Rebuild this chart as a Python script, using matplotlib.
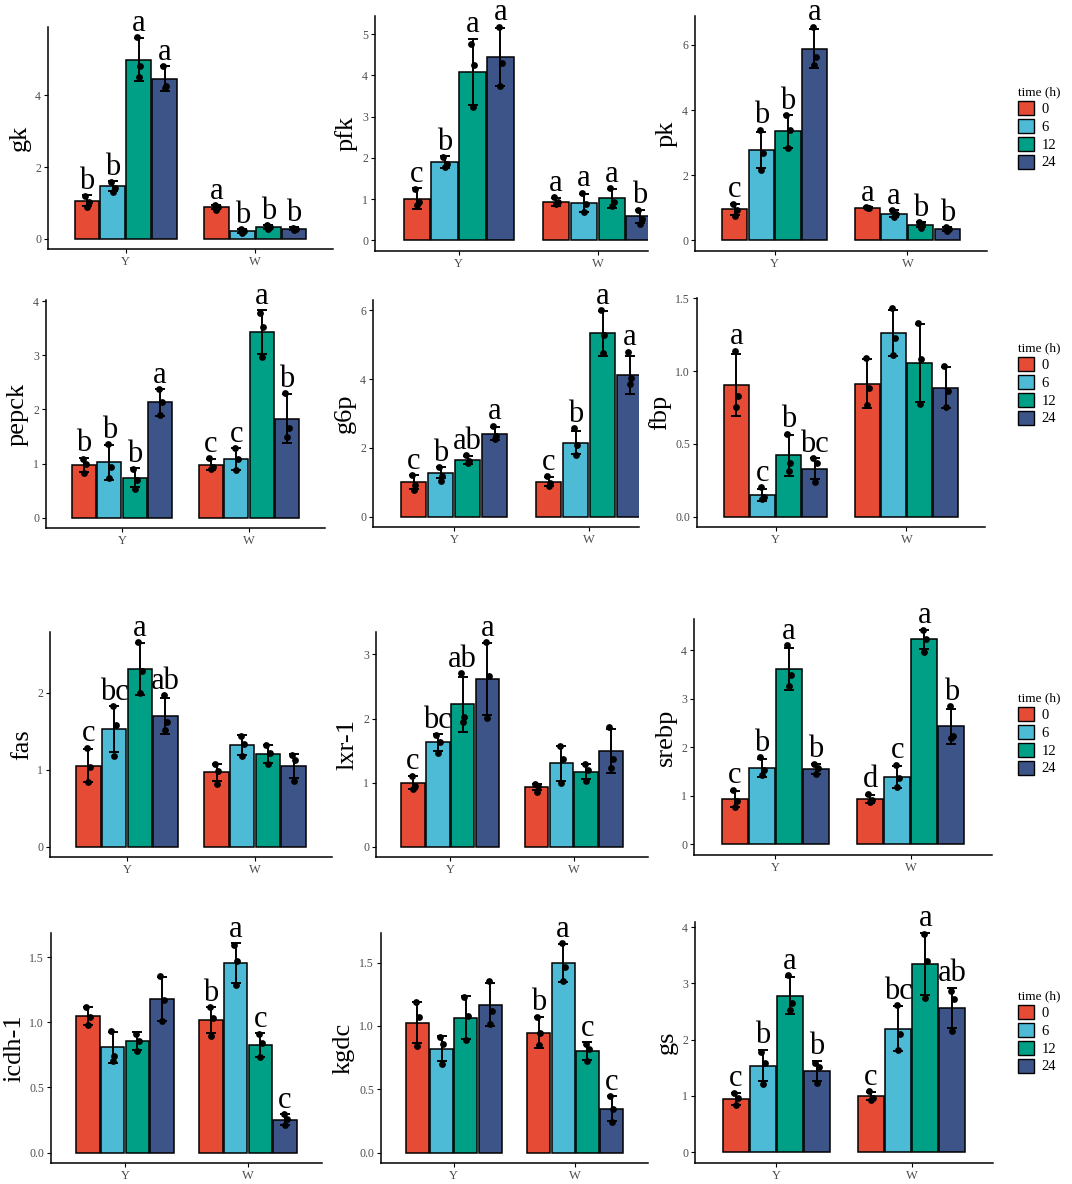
import matplotlib
matplotlib.use("Agg")
import matplotlib.pyplot as plt
from matplotlib.patches import Patch
import numpy as np

plt.rcParams["font.family"] = ["Liberation Serif", "DejaVu Serif"]

# order of every series: Y-0, Y-6, Y-12, Y-24, W-0, W-6, W-12, W-24
groups = ["Y", "W"]
times = ["0", "6", "12", "24"]
colors = ["#E64B35", "#4DBBD5", "#00A087", "#3C5488"]

gk_mean = [1.06, 1.47, 4.99, 4.46, 0.88, 0.22, 0.33, 0.28]
gk_sd = [0.15, 0.14, 0.60, 0.35, 0.06, 0.05, 0.05, 0.04]
gk_pts = [[1.20, 1.04, 0.90], [1.59, 1.43, 1.32], [5.62, 4.82, 4.50], [4.82, 4.27, 4.20],
          [0.95, 0.88, 0.81], [0.28, 0.21, 0.17], [0.38, 0.32, 0.28], [0.31, 0.28, 0.24]]
gk_sig = ["b", "b", "a", "a", "a", "b", "b", "b"]

pfk_mean = [1.01, 1.90, 4.09, 4.44, 0.93, 0.90, 1.02, 0.58]
pfk_sd = [0.26, 0.14, 0.80, 0.70, 0.10, 0.22, 0.23, 0.16]
pfk_pts = [[1.25, 0.93, 0.85], [2.03, 1.85, 1.77], [4.77, 4.26, 3.23], [5.18, 4.31, 3.75],
           [1.05, 0.93, 0.87], [1.15, 0.89, 0.68], [1.27, 0.93, 0.83], [0.73, 0.52, 0.40]]
pfk_sig = ["c", "b", "a", "a", "a", "a", "a", "b"]

pk_mean = [0.95, 2.77, 3.35, 5.88, 1.00, 0.82, 0.48, 0.34]
pk_sd = [0.18, 0.55, 0.50, 0.60, 0.02, 0.10, 0.08, 0.06]
pk_pts = [[1.13, 0.94, 0.74], [3.40, 2.67, 2.17], [3.85, 3.38, 2.82], [6.56, 5.64, 5.38],
          [1.02, 1.00, 0.98], [0.92, 0.82, 0.72], [0.56, 0.49, 0.38], [0.41, 0.35, 0.28]]
pk_sig = ["c", "b", "b", "a", "a", "a", "b", "b"]

pepck_mean = [0.98, 1.02, 0.74, 2.13, 0.98, 1.08, 3.43, 1.83]
pepck_sd = [0.13, 0.33, 0.18, 0.25, 0.10, 0.20, 0.40, 0.45]
pepck_pts = [[1.09, 1.00, 0.82], [1.36, 0.94, 0.74], [0.89, 0.69, 0.53], [2.38, 2.14, 1.89],
             [1.10, 0.94, 0.89], [1.28, 1.08, 0.88], [3.78, 3.53, 2.96], [2.30, 1.65, 1.49]]
pepck_sig = ["b", "b", "b", "a", "c", "c", "a", "b"]

g6p_mean = [1.00, 1.28, 1.65, 2.41, 1.02, 2.15, 5.33, 4.13]
g6p_sd = [0.20, 0.16, 0.12, 0.19, 0.14, 0.34, 0.65, 0.55]
g6p_pts = [[1.22, 0.93, 0.78], [1.44, 1.17, 1.05], [1.79, 1.63, 1.55], [2.65, 2.36, 2.27],
           [1.19, 0.98, 0.90], [2.58, 2.08, 1.79], [6.00, 5.28, 4.76], [4.80, 4.04, 3.85]]
g6p_sig = ["c", "b", "ab", "a", "c", "b", "a", "a"]

fbp_mean = [0.904, 0.15, 0.42, 0.33, 0.913, 1.26, 1.054, 0.886]
fbp_sd = [0.21, 0.04, 0.14, 0.07, 0.17, 0.16, 0.27, 0.14]
fbp_pts = [[1.14, 0.83, 0.755], [0.20, 0.133, 0.12], [0.57, 0.37, 0.31], [0.40, 0.37, 0.235],
           [1.09, 0.886, 0.764], [1.43, 1.23, 1.11], [1.33, 1.08, 0.77], [1.035, 0.863, 0.755]]
fbp_sig = ["a", "c", "b", "bc", "", "", "", ""]

fas_mean = [1.056, 1.526, 2.315, 1.70, 0.97, 1.32, 1.207, 1.05]
fas_sd = [0.21, 0.30, 0.34, 0.23, 0.11, 0.13, 0.12, 0.16]
fas_pts = [[1.29, 1.04, 0.84], [1.83, 1.58, 1.185], [2.66, 2.28, 2.00], [1.97, 1.625, 1.52],
           [1.08, 0.99, 0.82], [1.44, 1.335, 1.185], [1.33, 1.215, 1.08], [1.19, 1.13, 0.86]]
fas_sig = ["c", "bc", "a", "ab", "", "", "", ""]

lxr_mean = [1.00, 1.63, 2.22, 2.62, 0.93, 1.30, 1.17, 1.495]
lxr_sd = [0.10, 0.13, 0.43, 0.56, 0.05, 0.27, 0.12, 0.34]
lxr_pts = [[1.11, 0.95, 0.905], [1.75, 1.64, 1.47], [2.71, 2.03, 1.95], [3.19, 2.66, 2.01],
           [0.98, 0.94, 0.86], [1.57, 1.37, 1.00], [1.29, 1.20, 1.02], [1.87, 1.37, 1.23]]
lxr_sig = ["c", "bc", "ab", "a", "", "", "", ""]

srebp_mean = [0.93, 1.57, 3.61, 1.55, 0.94, 1.38, 4.22, 2.43]
srebp_sd = [0.16, 0.18, 0.43, 0.10, 0.08, 0.23, 0.20, 0.36]
srebp_pts = [[1.12, 0.90, 0.76], [1.79, 1.54, 1.43], [4.10, 3.48, 3.26], [1.66, 1.57, 1.45],
             [1.04, 0.92, 0.87], [1.64, 1.36, 1.18], [4.41, 4.23, 3.96], [2.84, 2.24, 2.19]]
srebp_sig = ["c", "b", "a", "b", "d", "c", "a", "b"]

icdh_mean = [1.048, 0.806, 0.857, 1.18, 1.017, 1.454, 0.826, 0.252]
icdh_sd = [0.07, 0.12, 0.07, 0.17, 0.10, 0.15, 0.09, 0.04]
icdh_pts = [[1.116, 1.04, 0.98], [0.934, 0.742, 0.704], [0.913, 0.857, 0.78], [1.353, 1.167, 1.01],
            [1.116, 1.035, 0.895], [1.594, 1.472, 1.289], [0.908, 0.844, 0.73], [0.297, 0.259, 0.208]]
icdh_sig = ["", "", "", "", "b", "a", "c", "c"]

kgdc_mean = [1.027, 0.82, 1.066, 1.169, 0.948, 1.495, 0.80, 0.347]
kgdc_sd = [0.16, 0.10, 0.17, 0.17, 0.12, 0.15, 0.07, 0.10]
kgdc_pts = [[1.187, 1.069, 0.84], [0.911, 0.854, 0.70], [1.232, 1.082, 0.89], [1.358, 1.122, 1.017],
            [1.074, 0.943, 0.846], [1.652, 1.468, 1.358], [0.859, 0.82, 0.722], [0.444, 0.347, 0.242]]
kgdc_sig = ["", "", "", "", "b", "a", "c", "c"]

gs_mean = [0.944, 1.537, 2.783, 1.448, 0.99, 2.19, 3.347, 2.564]
gs_sd = [0.10, 0.28, 0.33, 0.18, 0.07, 0.40, 0.55, 0.36]
gs_pts = [[1.05, 0.96, 0.83], [1.78, 1.585, 1.21], [3.145, 2.653, 2.534], [1.585, 1.507, 1.228],
          [1.08, 0.96, 0.93], [2.61, 2.107, 1.81], [3.887, 3.407, 2.742], [2.86, 2.73, 2.148]]
gs_sig = ["c", "b", "a", "b", "c", "bc", "a", "ab"]

genes = [
    ("gk", gk_mean, gk_sd, gk_pts, gk_sig),
    ("pfk", pfk_mean, pfk_sd, pfk_pts, pfk_sig),
    ("pk", pk_mean, pk_sd, pk_pts, pk_sig),
    ("pepck", pepck_mean, pepck_sd, pepck_pts, pepck_sig),
    ("g6p", g6p_mean, g6p_sd, g6p_pts, g6p_sig),
    ("fbp", fbp_mean, fbp_sd, fbp_pts, fbp_sig),
    ("fas", fas_mean, fas_sd, fas_pts, fas_sig),
    ("lxr-1", lxr_mean, lxr_sd, lxr_pts, lxr_sig),
    ("srebp", srebp_mean, srebp_sd, srebp_pts, srebp_sig),
    ("icdh-1", icdh_mean, icdh_sd, icdh_pts, icdh_sig),
    ("kgdc", kgdc_mean, kgdc_sd, kgdc_pts, kgdc_sig),
    ("gs", gs_mean, gs_sd, gs_pts, gs_sig),
]

# layout: panel box in pixels (left, right, top, bottom), tick step, right x-limit
W, H = 1072, 1184
layout = {
    "gk": ((48, 333, 27, 249), 2, 2.6),
    "pfk": ((375, 648, 16, 251), 1, 2.36),
    "pk": ((695, 987, 16, 251), 2, 2.6),
    "pepck": ((46, 325, 300, 528), 1, 2.6),
    "g6p": ((373, 639, 300, 527), 2, 2.37),
    "fbp": ((697, 985, 298, 527), 0.5, 2.6),
    "fas": ((50, 332, 632, 857), 1, 2.6),
    "lxr-1": ((376, 648, 632, 857), 1, 2.6),
    "srebp": ((694, 992, 619, 855), 1, 2.6),
    "icdh-1": ((51, 322, 933, 1163), 0.5, 2.6),
    "kgdc": ((381, 648, 933, 1163), 0.5, 2.6),
    "gs": ((695, 993, 922, 1163), 1, 2.6),
}
legend_tops = [86, 342, 692, 990]

offsets = [-0.3, -0.1, 0.1, 0.3]
jitter = [-0.012, 0.014, 0.0]


def draw_panel(fig, name, mean, sd, pts, sig):
    (l, r, t, b), step, xmax = layout[name]
    ax = fig.add_axes([l / W, 1 - b / H, (r - l) / W, (b - t) / H])
    mean = np.asarray(mean)
    sd = np.asarray(sd)
    top = max((mean + sd).max(), np.max(pts))
    for i in range(8):
        g = i // 4
        k = i % 4
        x = g + 1 + offsets[k]
        ax.bar(x, mean[i], width=0.19, color=colors[k], edgecolor="black",
               linewidth=1.1, zorder=2)
        ax.errorbar(x, mean[i], yerr=sd[i], color="black", elinewidth=1.4,
                    capsize=3.5, capthick=1.4, zorder=3)
        ax.scatter([x + j for j in jitter], pts[i], s=24, color="black", zorder=4,
                   linewidths=0)
        if sig[i]:
            ytxt = max(mean[i] + sd[i], max(pts[i])) + 0.03 * top
            ax.text(x, ytxt, sig[i], ha="center", va="baseline", fontsize=22,
                    clip_on=False, zorder=5)
    ax.set_xlim(0.4, xmax)
    ax.set_ylim(-0.05 * top, 1.05 * top)
    ticks = np.arange(0, 1.05 * top + 1e-9, step)
    ax.set_yticks(ticks)
    if step < 1:
        ax.set_yticklabels([f"{v:.1f}" for v in ticks])
    else:
        ax.set_yticklabels([f"{v:g}" for v in ticks])
    ax.set_xticks([1, 2])
    ax.set_xticklabels(groups)
    ax.tick_params(axis="y", labelsize=8.5, labelcolor="#4D4D4D", length=3, width=0.8, pad=2)
    ax.tick_params(axis="x", labelsize=9, labelcolor="#4D4D4D", length=3, width=0.8, pad=2)
    for side in ("top", "right"):
        ax.spines[side].set_visible(False)
    for side in ("left", "bottom"):
        ax.spines[side].set_linewidth(1.1)
    ax.set_ylabel(name, fontsize=19, labelpad=3)
    ax.patch.set_alpha(0)
    return ax


fig = plt.figure(figsize=(W / 100, H / 100), dpi=100)
for name, mean, sd, pts, sig in genes:
    draw_panel(fig, name, mean, sd, pts, sig)

handles = [Patch(facecolor=c, edgecolor="black", linewidth=1.0) for c in colors]
for ytop in legend_tops:
    fig.legend(handles, times, title="time (h)", loc="upper left",
               bbox_to_anchor=(1018 / W, 1 - ytop / H), frameon=False,
               fontsize=10.5, title_fontsize=9.5, handlelength=1.1,
               handleheight=1.1, labelspacing=0.2, handletextpad=0.5,
               borderpad=0, borderaxespad=0, alignment="left")

fig.savefig("out.png", dpi=100)
